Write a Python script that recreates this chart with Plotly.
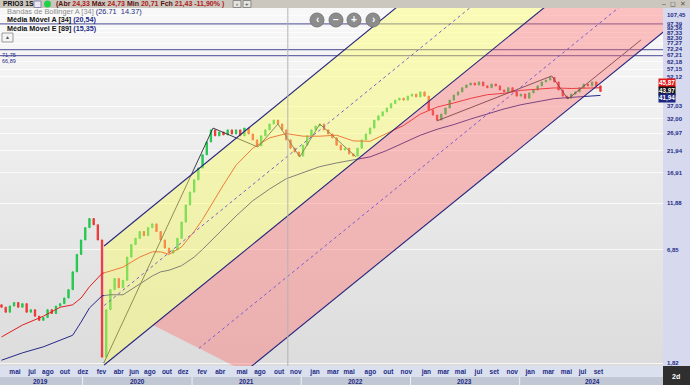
import math
import base64
import pandas as pd
import plotly.graph_objects as go

# ---------------- data ----------------
BAR_START = "2019-04-05"
BAR_STEP = "14D"
FIRST_OPEN = 3.6
CLOSES = [
    3.5, 3.3, 3.55, 3.7, 3.5, 3.65, 3.3, 3.4, 3.15, 3.0,
    3.1, 3.4, 3.25, 3.55, 3.65, 3.9, 4.3, 5.3, 6.5, 7.7,
    8.9, 9.9, 9.2, 7.7, 1.95, 3.4, 4.3, 4.9, 4.4, 4.8,
    6.3, 7.3, 7.85, 8.5, 8.1, 8.9, 9.3, 8.5, 7.7, 7.0,
    6.6, 6.85, 7.85, 9.5, 11.6, 13.5, 15.6, 17.9, 20.9, 24.3,
    28.0, 26.1, 27.3, 26.4, 28.0, 26.7, 28.0, 26.1, 28.6, 26.7,
    24.9, 23.2, 26.1, 28.0, 30.0, 31.4, 30.0, 28.0, 24.9, 22.6,
    21.6, 20.6, 23.4, 26.1, 28.0, 29.3, 30.0, 28.0, 26.7, 25.5,
    23.4, 22.1, 22.6, 21.1, 20.6, 22.6, 24.9, 26.7, 28.6, 31.4,
    33.0, 34.6, 36.2, 38.1, 39.7, 40.6, 39.7, 41.6, 42.6, 41.2,
    43.7, 41.6, 35.4, 33.3, 31.4, 33.7, 36.2, 39.7, 42.1, 43.7,
    45.9, 47.4, 48.5, 47.4, 49.1, 46.9, 45.9, 47.9, 46.9, 44.7,
    43.7, 45.9, 43.7, 41.6, 42.6, 40.6, 43.2, 44.7, 46.9, 49.1,
    50.2, 51.8, 49.1, 44.7, 41.6, 40.6, 42.6, 43.7, 45.9, 47.9,
    46.9, 49.1, 46.9, 43.97,
]

MA34_IDX = [0, 5, 10, 14, 17, 19, 21, 24, 26, 29, 33, 36, 38, 40, 43, 46, 48, 50,
            53, 56, 60, 64, 68, 72, 76, 80, 84, 88, 92, 96, 100, 104, 108, 112,
            116, 120, 124, 128, 132, 136, 140, 143]
MA34_VAL = [2.47, 2.84, 3.15, 3.5, 3.6, 3.9, 4.45, 5.2, 5.35, 5.6, 6.3, 6.7, 6.7,
            6.5, 7.1, 8.5, 9.8, 11.6, 14.7, 18.5, 22.6, 25.5, 26.8, 26.0, 26.0,
            26.3, 24.6, 24.5, 26.8, 29.5, 33.7, 36.6, 38.4, 40.5, 42.3, 43.0,
            44.5, 45.0, 45.8, 45.5, 45.9, 45.87]

EMA89_IDX = MA34_IDX
EMA89_VAL = [1.88, 2.05, 2.2, 2.38, 2.52, 2.94, 3.47, 4.0, 4.05, 4.05, 4.6, 5.05,
             5.3, 5.4, 5.7, 6.3, 6.9, 7.6, 8.8, 10.2, 12.2, 14.0, 15.8, 17.0,
             18.2, 19.0, 19.6, 20.4, 22.0, 24.0, 26.3, 28.2, 29.8, 31.8, 33.8,
             35.8, 37.6, 39.0, 40.4, 41.0, 41.6, 41.94]

# parallel channel tool (two points per line)
CH_UP_D, CH_UP_P = ["2020-03-13", "2025-08-26"], [7.18, 2148]
CH_MIDU_D, CH_MIDU_P = ["2020-03-13", "2025-08-26"], [3.57, 1054]
CH_MID_D, CH_MID_P = ["2020-03-13", "2025-08-26"], [1.778, 518]
CH_MIDL_D, CH_MIDL_P = ["2021-01-24", "2025-08-26"], [2.16, 254.8]
CH_LOW_D, CH_LOW_P = ["2021-06-27", "2025-08-26"], [1.646, 125.2]
PINK_START_D, PINK_START_P = "2020-08-23", 2.842

# hand-drawn trend / wave lines (dates, prices)
TREND_LINES = [
    (["2020-03-12", "2021-03-12", "2021-08-09", "2021-10-15", "2021-12-27", "2022-03-04", "2022-07-03"],
     [1.82, 28.6, 22.9, 30.0, 20.4, 30.0, 20.4]),
    (["2023-03-30", "2024-04-17", "2024-06-10", "2025-02-09"], [31.1, 52.7, 40.2, 80.3]),
]

HLINES = [97.0, 71.75, 66.89]
HLINE_LABELS = {71.75: "71,75", 66.89: "66,89"}
VLINE_DATE = "2021-11-17"

X_RANGE = ["2019-03-31", "2025-04-24"]
Y_RANGE = [1.757, 116.9]
Y_TICKS = [1.82, 6.85, 11.88, 16.91, 21.94, 26.97, 32.00, 37.03, 52.12, 57.15,
           62.18, 67.21, 72.24, 77.27, 82.30, 87.33, 92.36, 97.39, 107.45]

MONTH_DATES = ["2019-05-20", "2019-07-16", "2019-09-07", "2019-11-03", "2020-01-02",
               "2020-03-04", "2020-05-01", "2020-06-21", "2020-08-13", "2020-10-09",
               "2020-12-02", "2021-02-04", "2021-04-05", "2021-06-17", "2021-08-16",
               "2021-10-19", "2021-12-14", "2022-02-16", "2022-04-17", "2022-06-10",
               "2022-08-20", "2022-10-19", "2022-12-18", "2023-02-23", "2023-04-21",
               "2023-06-17", "2023-08-16", "2023-10-08", "2023-12-07", "2024-02-05",
               "2024-04-06", "2024-06-05", "2024-07-29", "2024-09-20"]
MONTH_TEXT = ["mai", "jul", "ago", "out", "dez", "fev", "abr", "jun", "ago", "out",
              "dez", "fev", "abr", "mai", "ago", "out", "nov", "jan", "mar", "mai",
              "ago", "out", "nov", "jan", "mar", "mai", "jul", "set", "nov", "jan",
              "mar", "mai", "jul", "set"]
YEAR_TEXT = ["2019", "2020", "2021", "2022", "2023", "2024"]
YEAR_DATES = ["2019-08-15", "2020-07-01", "2021-07-01", "2022-07-01", "2023-07-02", "2024-09-02"]
YEAR_BOUNDS = ["2020-01-01", "2021-01-01", "2022-01-01", "2023-01-01", "2024-01-01"]

TAGS = [(45.87, "#e31b1b", 5), (43.97, "#111111", 0), (41.94, "#1c2580", -3)]

# ---------------- build ----------------
W, H = 690, 385
ML, MR, MT, MB = 0, 27, 8, 19
PW, PH = W - ML - MR, H - MT - MB
FONT = "Liberation Sans"
NAVY = "#1d2b86"


def px_x(p):
    return p / PW


def px_y(p):
    return (H - MB - p) / PH


dates = pd.date_range(BAR_START, periods=len(CLOSES), freq=BAR_STEP)
opens = [FIRST_OPEN] + CLOSES[:-1]
highs = [max(o, c) for o, c in zip(opens, CLOSES)]
lows = [min(o, c) for o, c in zip(opens, CLOSES)]

fig = go.Figure()

fig.add_trace(go.Candlestick(
    x=dates, open=opens, high=highs, low=lows, close=CLOSES,
    increasing=dict(line=dict(color="#1fc44c", width=1), fillcolor="#2fd35a"),
    decreasing=dict(line=dict(color="#ee3535", width=1), fillcolor="#f04848"),
    whiskerwidth=0, hoverinfo="skip", showlegend=False,
))

fig.add_trace(go.Scatter(x=dates[MA34_IDX], y=MA34_VAL, mode="lines",
                         line=dict(color="#e11d1d", width=1), hoverinfo="skip", showlegend=False))
fig.add_trace(go.Scatter(x=dates[EMA89_IDX], y=EMA89_VAL, mode="lines",
                         line=dict(color="#27278a", width=1), hoverinfo="skip", showlegend=False))

for d, p in TREND_LINES:
    fig.add_trace(go.Scatter(x=d, y=p, mode="lines", line=dict(color="#2a2a3a", width=0.9),
                             hoverinfo="skip", showlegend=False))

# horizontal lines
for lv in HLINES:
    fig.add_trace(go.Scatter(x=X_RANGE, y=[lv, lv], mode="lines",
                             line=dict(color="#6a6aa8", width=1.2), hoverinfo="skip", showlegend=False))

# channel fills (translucent, over the price)
fig.add_trace(go.Scatter(
    x=[CH_UP_D[0], CH_UP_D[1], CH_MID_D[1], CH_MID_D[0]],
    y=[CH_UP_P[0], CH_UP_P[1], CH_MID_P[1], CH_MID_P[0]],
    fill="toself", fillcolor="rgba(255,255,95,0.42)", mode="none",
    hoverinfo="skip", showlegend=False))
fig.add_trace(go.Scatter(
    x=[PINK_START_D, CH_MID_D[1], CH_LOW_D[1], CH_LOW_D[0]],
    y=[PINK_START_P, CH_MID_P[1], CH_LOW_P[1], CH_LOW_P[0]],
    fill="toself", fillcolor="rgba(255,110,110,0.40)", mode="none",
    hoverinfo="skip", showlegend=False))

for d, p in [(CH_UP_D, CH_UP_P), (CH_MID_D, CH_MID_P), (CH_LOW_D, CH_LOW_P)]:
    fig.add_trace(go.Scatter(x=d, y=p, mode="lines", line=dict(color="#25257e", width=1.1),
                             hoverinfo="skip", showlegend=False))
for d, p in [(CH_MIDU_D, CH_MIDU_P), (CH_MIDL_D, CH_MIDL_P)]:
    fig.add_trace(go.Scatter(x=d, y=p, mode="lines",
                             line=dict(color="#7d5ccc", width=1, dash="dot"),
                             hoverinfo="skip", showlegend=False))

# background gradient image
svg = ('<svg xmlns="http://www.w3.org/2000/svg" width="10" height="100" preserveAspectRatio="none">'
       '<defs><linearGradient id="g" x1="0" y1="0" x2="0" y2="1">'
       '<stop offset="0" stop-color="#f8f8f8"/><stop offset="1" stop-color="#dcdcdc"/>'
       '</linearGradient></defs><rect width="10" height="100" fill="url(#g)"/></svg>')
src = "data:image/svg+xml;base64," + base64.b64encode(svg.encode()).decode()

shapes = []
ann = []


def note(x, y, text, size, color, xanchor="center", family=FONT, xref="paper", yref="paper", **kw):
    d = dict(x=x, y=y, xref=xref, yref=yref, text=text, showarrow=False, xanchor=xanchor,
             yanchor=kw.pop("yanchor", "middle"), font=dict(family=family, size=size, color=color))
    d.update(kw)
    ann.append(d)


# vertical cursor line
shapes.append(dict(type="line", xref="x", yref="paper", x0=VLINE_DATE, x1=VLINE_DATE,
                   y0=0, y1=1, line=dict(color="#b4b4b4", width=1)))
# right axis panel
shapes.append(dict(type="rect", xref="paper", yref="paper", x0=1, x1=W / PW, y0=0, y1=1,
                   fillcolor="#d7daee", line=dict(width=0), layer="below"))
# bottom rows
shapes.append(dict(type="rect", xref="paper", yref="paper", x0=0, x1=1,
                   y0=px_y(377), y1=px_y(366), fillcolor="#dbe0ee", line=dict(width=0), layer="below"))
shapes.append(dict(type="rect", xref="paper", yref="paper", x0=0, x1=1,
                   y0=px_y(385), y1=px_y(377), fillcolor="#c2c7d4", line=dict(width=0), layer="below"))
for b in YEAR_BOUNDS:
    shapes.append(dict(type="line", xref="x", yref="paper", x0=b, x1=b,
                       y0=px_y(385), y1=px_y(377), line=dict(color="#f2f2f6", width=1)))
shapes.append(dict(type="rect", xref="paper", yref="paper", x0=1, x1=W / PW,
                   y0=px_y(385), y1=px_y(366), fillcolor="#2f2f2f", line=dict(width=0)))
# header bar
shapes.append(dict(type="rect", xref="paper", yref="paper", x0=0, x1=W / PW,
                   y0=1, y1=px_y(0), fillcolor="#cbc7bf", line=dict(width=0)))
# nav buttons
for cx, sym in [(317, "‹"), (336, "–"), (354, "+"), (373, "›")]:
    shapes.append(dict(type="circle", xref="paper", yref="paper",
                       x0=px_x(cx - 7), x1=px_x(cx + 7), y0=px_y(27), y1=px_y(13),
                       fillcolor="#8c8c8c", line=dict(color="#7a7a7a", width=1)))
    note(px_x(cx), px_y(20), "<b>" + sym + "</b>", 10, "white")
# small header buttons
for bx, sym in [(237, "‹"), (247, "+")]:
    shapes.append(dict(type="rect", xref="paper", yref="paper", x0=px_x(bx - 4), x1=px_x(bx + 4),
                       y0=px_y(7.5), y1=px_y(0.5), fillcolor="#e4e2dd", line=dict(color="#8a8a8a", width=1)))
    note(px_x(bx), px_y(4.2), sym, 6, "#333")
# small up button at left
shapes.append(dict(type="rect", xref="paper", yref="paper", x0=px_x(2), x1=px_x(13),
                   y0=px_y(42), y1=px_y(33), fillcolor="#f4f4f4", line=dict(color="#9a9a9a", width=1)))
note(px_x(7.5), px_y(37.5), "▲", 5, "#555")

# header texts
note(px_x(1), px_y(4), "<b>PRIO3 1S</b>", 6.8, "#111", xanchor="left")
shapes.append(dict(type="rect", xref="paper", yref="paper", x0=px_x(34), x1=px_x(41),
                   y0=px_y(7.5), y1=px_y(1), fillcolor="#e8e8f0", line=dict(color="#8888aa", width=1)))
shapes.append(dict(type="circle", xref="paper", yref="paper", x0=px_x(44), x1=px_x(51),
                   y0=px_y(7.5), y1=px_y(0.5), fillcolor="#22d04a", line=dict(width=0)))
hdr = ('<b><span style="color:#5a1010">(Abr</span> <span style="color:#b01818">24,33</span> '
       '<span style="color:#5a1010">Máx</span> <span style="color:#b01818">24,73</span> '
       '<span style="color:#5a1010">Min</span> <span style="color:#b01818">20,71</span> '
       '<span style="color:#5a1010">Fch</span> <span style="color:#b01818">21,43 -11,90% )</span></b>')
note(px_x(54), px_y(4), hdr, 7.0, "#5a1010", xanchor="left")
note(px_x(688), px_y(4), "–  ◻  ✕", 7, "#555", xanchor="right")

# indicator legend texts
note(px_x(5), px_y(11.7), '<span style="color:#8c8c8c">Bandas de Bollinger A [34]</span> '
     '<span style="color:#1d2b86">(26.71  14.37)</span>', 7.4, "#8c8c8c", xanchor="left")
note(px_x(5), px_y(20), '<b><span style="color:#111">Média Móvel A [34]</span> '
     '<span style="color:#1d2b86">(20,54)</span></b>', 7.2, "#111", xanchor="left")
note(px_x(5), px_y(28), '<b><span style="color:#111">Média Móvel E [89]</span> '
     '<span style="color:#1d2b86">(15,35)</span></b>', 7.2, "#111", xanchor="left")

# hline labels on the left
for lv, lab in HLINE_LABELS.items():
    note(0, math.log10(lv), lab, 5.5, NAVY, xanchor="left", yref="y", yanchor="top")

# year labels
for t, d in zip(YEAR_TEXT, YEAR_DATES):
    note(d, px_y(381.5), "<b>" + t + "</b>", 6.5, NAVY, xref="x")
note(px_x(676), px_y(376), "<b>2d</b>", 7, "white")

# value tags at right
for v, c, sh in TAGS:
    note(0.993, math.log10(v), "<b>" + f"{v:.2f}".replace(".", ",") + "</b>", 6.3, "white",
         xanchor="left", yref="y", bgcolor=c, borderpad=0, yshift=sh)

fig.update_layout(
    width=W, height=H,
    margin=dict(l=ML, r=MR, t=MT, b=MB),
    paper_bgcolor="#e9e9e9",
    plot_bgcolor="rgba(0,0,0,0)",
    showlegend=False,
    boxgap=0.55,
    shapes=shapes,
    annotations=ann,
    images=[dict(source=src, xref="paper", yref="paper", x=0, y=1, sizex=1, sizey=1,
                 xanchor="left", yanchor="top", sizing="stretch", layer="below")],
    xaxis=dict(type="date", range=X_RANGE, rangeslider=dict(visible=False),
               showgrid=False, zeroline=False, showline=False, ticks="",
               tickmode="array", tickvals=MONTH_DATES, ticktext=["<b>" + t + "</b>" for t in MONTH_TEXT],
               tickfont=dict(family=FONT, size=6.5, color=NAVY), ticklabelstandoff=0),
    yaxis=dict(type="log", range=[math.log10(Y_RANGE[0]), math.log10(Y_RANGE[1])], side="right",
               tickmode="array", tickvals=Y_TICKS,
               ticktext=["<b>" + f"{v:.2f}".replace(".", ",") + "</b>" for v in Y_TICKS],
               tickfont=dict(family=FONT, size=6.0, color=NAVY),
               showgrid=True, gridcolor="rgba(255,255,255,0.75)", gridwidth=1,
               zeroline=False, showline=False, ticks="", ticklabelstandoff=3),
)

fig.write_html("out.html", config={"displayModeBar": False})
